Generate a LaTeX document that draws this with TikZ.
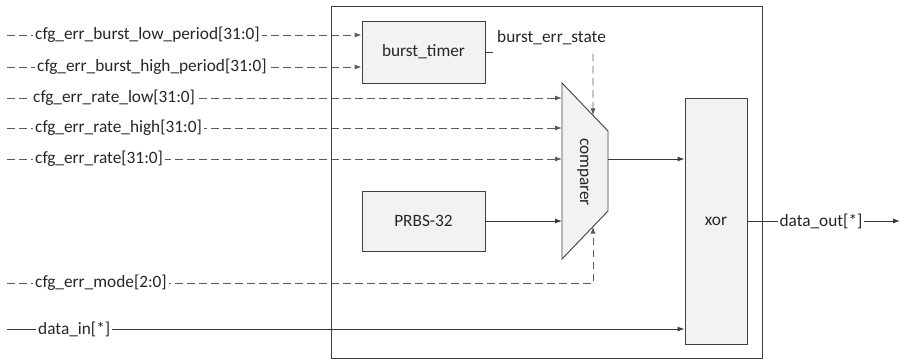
\documentclass[tikz,border=0pt]{standalone}
\usepackage{fontspec}
\setmainfont{Carlito}
\usetikzlibrary{arrows.meta,calc}
\definecolor{wire}{HTML}{3A3A3A}
\definecolor{dwire}{HTML}{5A5A5A}
\definecolor{blockfill}{HTML}{F2F2F2}
\definecolor{blockline}{HTML}{404040}
\tikzset{
  every node/.style={font=\fontsize{17.3}{20}\selectfont, text=black!85},
  block/.style={draw=blockline, fill=blockfill, line width=0.9pt, inner sep=0pt},
  sig/.style={draw=wire, line width=0.9pt, -{Latex[length=7pt,width=5pt]}},
  dsig/.style={sig, draw=dwire, dash pattern=on 7.5pt off 4.5pt},
  lbl/.style={fill=white, inner xsep=2pt, inner ysep=1pt, anchor=west},
}
\begin{document}
\begin{tikzpicture}[x=1pt,y=-1pt]
\useasboundingbox (0,0) rectangle (905,361);

% enclosing module
\node[draw=blockline, line width=0.9pt, minimum width=431pt, minimum height=352pt, inner sep=0pt] (top) at (546.5,182) {};

% internal blocks
\node[block, minimum width=123pt, minimum height=62pt] (timer) at (423.5,52) {burst\_timer};
\node[block, minimum width=123pt, minimum height=60pt] (prbs) at (423.5,221) {PRBS-32};
\node[block, minimum width=62pt, minimum height=246pt] (xor) at (716,221) {xor};

% comparer trapezoid
\coordinate (ctl) at (562,83);
\coordinate (ctr) at (608,131);
\coordinate (cbr) at (608,211);
\coordinate (cbl) at (562,259);
\draw[block] (ctl) -- (ctr) -- (cbr) -- (cbl) -- cycle;
\node[rotate=-90] (cmp) at (583,172) {comparer};
\coordinate (cmpTop) at ($(ctl)!{31/46}!(ctr)$);
\coordinate (cmpBot) at ($(cbr)!{15/46}!(cbl)$);
\coordinate (cmpOut) at (608,159);

% input ports
\coordinate (pLow)  at (7,35);
\coordinate (pHigh) at (7,67);
\coordinate (pRl)   at (7,98);
\coordinate (pRh)   at (7,128);
\coordinate (pR)    at (7,159);
\coordinate (pMode) at (7,283);
\coordinate (pDin)  at (7,329);

\draw[dsig] (pLow)  -- (pLow -| timer.west);
\draw[dsig] (pHigh) -- (pHigh -| timer.west);
\draw[dsig] (pRl)   -- (pRl -| ctl);
\draw[dsig] (pRh)   -- (pRh -| ctl);
\draw[dsig] (pR)    -- (pR -| ctl);
\draw[dsig] (pMode) -- (pMode -| cmpBot) -- (cmpBot);
\draw[sig]  (pDin)  -- (pDin -| xor.west);

\node[lbl] (lLow)  at (33,35)  {cfg\_err\_burst\_low\_period[31:0]};
\node[lbl] (lHigh) at (35,67)  {cfg\_err\_burst\_high\_period[31:0]};
\node[lbl] (lRl)   at (31,98)  {cfg\_err\_rate\_low[31:0]};
\node[lbl] (lRh)   at (33,128) {cfg\_err\_rate\_high[31:0]};
\node[lbl] (lR)    at (33,159) {cfg\_err\_rate[31:0]};
\node[lbl] (lMode) at (33,283) {cfg\_err\_mode[2:0]};
\node[lbl] (lDin)  at (36,329) {data\_in[*]};

% burst state feedback into the comparer
\coordinate (stub) at (493,52);
\draw[draw=wire, line width=0.9pt] (timer.east) -- (stub);
\node[anchor=west, inner sep=0pt] (bes) at (497,38) {burst\_err\_state};
\coordinate (besDrop) at (593,54);
\draw[dsig] (besDrop) -- (cmpTop);

% datapath
\draw[sig] (prbs.east) -- (prbs.east -| ctl);
\draw[sig] (cmpOut) -- (cmpOut -| xor.west);

% output
\coordinate (pOut) at (900,221);
\draw[sig] (xor.east) -- (pOut);
\node[fill=white, inner xsep=2pt, inner ysep=1pt] (lOut) at (821,221) {data\_out[*]};
\end{tikzpicture}
\end{document}
